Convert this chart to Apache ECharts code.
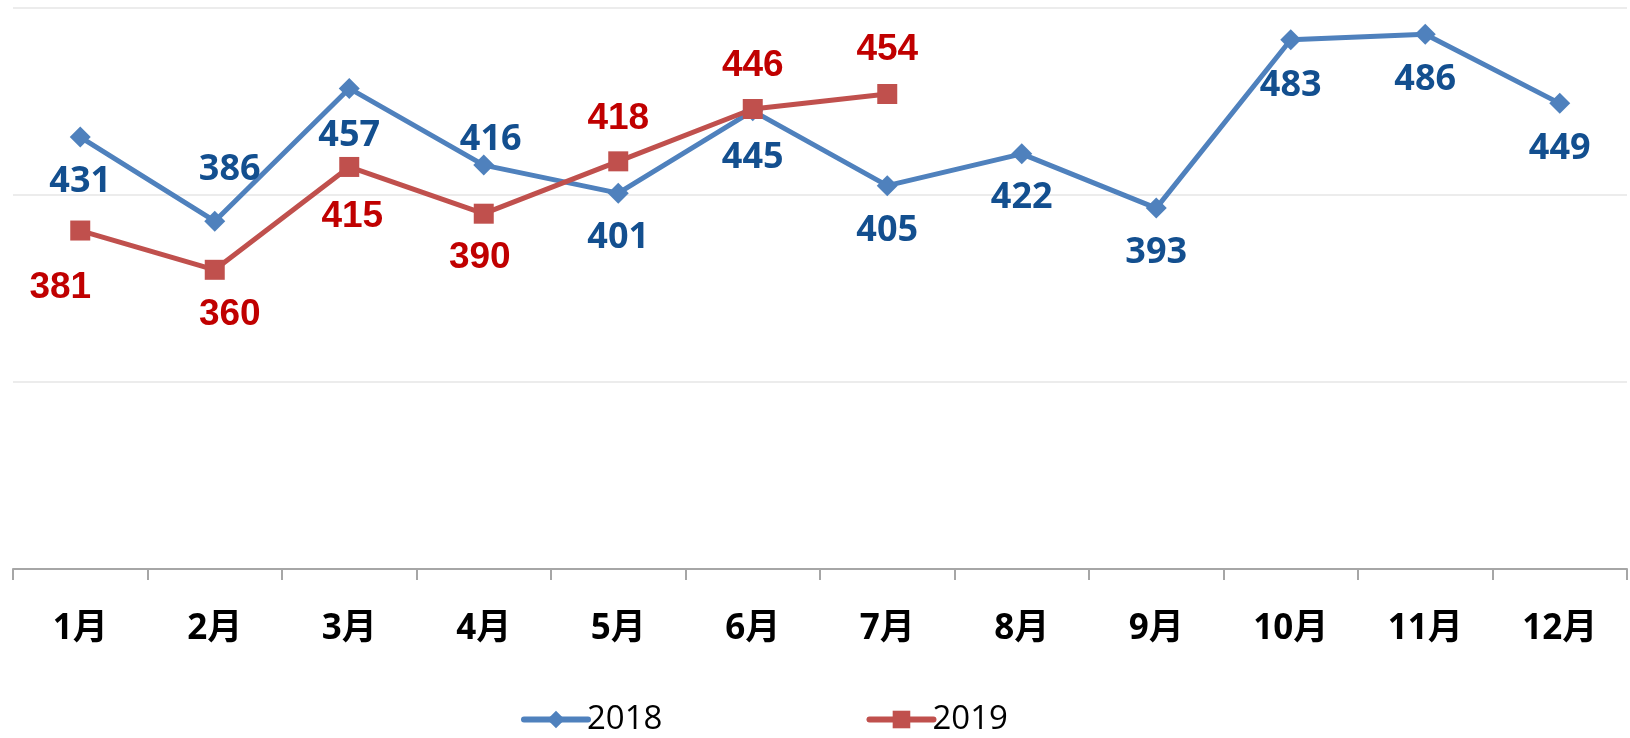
<!DOCTYPE html>
<html>
<head>
<meta charset="utf-8">
<script src="https://cdn.jsdelivr.net/npm/echarts@6/dist/echarts.min.js"></script>
<style>
  html, body { margin: 0; padding: 0; background: #fff; }
  #chart { width: 1630px; height: 738px; }
</style>
</head>
<body>
<div id="chart"></div>
<script>
const months = ["1月", "2月", "3月", "4月", "5月", "6月", "7月", "8月", "9月", "10月", "11月", "12月"];
const values2018 = [431, 386, 457, 416, 401, 445, 405, 422, 393, 483, 486, 449];
const values2019 = [381, 360, 415, 390, 418, 446, 454];

// label offsets per point (Excel-style placement)
const offsets2018 = [[0, 45], [15, -51], [0, 47], [7, -25], [0, 45], [0, 47], [0, 45], [0, 44], [0, 45], [0, 46], [0, 46], [0, 45]];
const offsets2019 = [[-20, 57], [15, 45], [3, 50], [-4, 44], [0, -43], [0, -43], [0, -44]];

function withLabels(values, offsets) {
  return values.map((v, i) => ({
    value: v,
    label: { offset: offsets[i] },
  }));
}

const chart = echarts.init(document.getElementById("chart"));
chart.setOption({
  animation: false,
  grid: { left: 13, right: 3, top: 8, bottom: 169, containLabel: false },
  legend: {
    left: 516,
    top: 698,
    itemWidth: 64,
    itemHeight: 22,
    itemGap: 204,
    lineStyle: { width: 6, cap: "round" },
    textStyle: { fontSize: 33, color: "#000", fontFamily: "Open Sans", padding: [0, 0, 0, -6] },
    data: ["2018", "2019"],
  },
  xAxis: {
    type: "category",
    data: months,
    axisLine: { lineStyle: { color: "#a6a6a6", width: 2 } },
    axisTick: { show: true, length: 11, lineStyle: { color: "#a6a6a6", width: 2 } },
    axisLabel: {
      margin: 43,
      fontSize: 35,
      fontWeight: "bold",
      color: "#000",
      fontFamily: "Open Sans, Noto Sans CJK SC",
    },
  },
  yAxis: {
    type: "value",
    min: 200,
    max: 500,
    interval: 100,
    axisLabel: { show: false },
    axisLine: { show: false },
    axisTick: { show: false },
    splitLine: { lineStyle: { color: "#ececec", width: 2 } },
  },
  series: [
    {
      name: "2018",
      type: "line",
      data: withLabels(values2018, offsets2018),
      symbol: "diamond",
      symbolSize: 21,
      lineStyle: { color: "#4f81bd", width: 5, cap: "round" },
      itemStyle: { color: "#4f81bd" },
      label: {
        show: true,
        position: "inside",
        fontSize: 36,
        fontWeight: "bold",
        color: "#134f8f",
        fontFamily: "Open Sans",
      },
    },
    {
      name: "2019",
      type: "line",
      data: withLabels(values2019, offsets2019),
      symbol: "rect",
      symbolSize: 20,
      lineStyle: { color: "#c0504d", width: 5, cap: "round" },
      itemStyle: { color: "#c0504d" },
      label: {
        show: true,
        position: "inside",
        fontSize: 37,
        fontWeight: "bold",
        color: "#c00000",
        fontFamily: "Liberation Sans",
      },
    },
  ],
});
</script>
</body>
</html>
